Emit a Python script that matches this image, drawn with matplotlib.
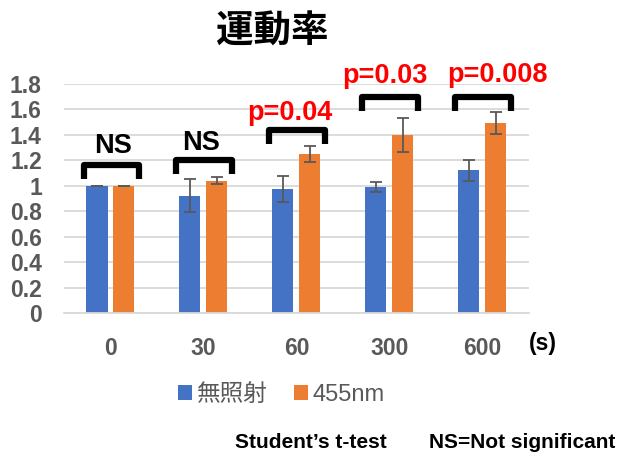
import numpy as np
import matplotlib
matplotlib.use("Agg")
import matplotlib.pyplot as plt

plt.rcParams['font.family'] = ['Liberation Sans', 'Noto Sans CJK JP', 'DejaVu Sans']

# Data
categories = ['0', '30', '60', '300', '600']
series_names = ['無照射', '455nm']
control_vals = [1.00, 0.92, 0.975, 0.99, 1.12]
control_err = [0.0, 0.13, 0.105, 0.04, 0.08]
light_vals = [1.00, 1.04, 1.25, 1.40, 1.495]
light_err = [0.0, 0.03, 0.06, 0.135, 0.085]
sig_labels = ['NS', 'NS', 'p=0.04', 'p=0.03', 'p=0.008']
bracket_tops = [1.165, 1.205, 1.44, 1.70, 1.70]
label_heights = [1.31, 1.34, 1.575, 1.86, 1.87]
label_offsets = [0.03, -0.03, -0.075, -0.05, 0.16]
yticks = [0, 0.2, 0.4, 0.6, 0.8, 1, 1.2, 1.4, 1.6, 1.8]
ytick_labels = ['0', '0.2', '0.4', '0.6', '0.8', '1', '1.2', '1.4', '1.6', '1.8']

BLUE = '#4472C4'
ORANGE = '#ED7D31'
GREY = '#595959'

fig = plt.figure(figsize=(6.23, 4.63), dpi=100)
ax = fig.add_axes([0.1027, 0.324, 0.7463, 0.4946])

x = np.arange(len(categories))
w = 0.226
off = 0.145
ax.bar(x - off, control_vals, w, color=BLUE, label=series_names[0], zorder=2)
ax.bar(x + off, light_vals, w, color=ORANGE, label=series_names[1], zorder=2)
ax.errorbar(x - off, control_vals, yerr=control_err, fmt='none', ecolor=GREY,
            elinewidth=1.3, capsize=4, capthick=1.3, zorder=3)
ax.errorbar(x + off, light_vals, yerr=light_err, fmt='none', ecolor=GREY,
            elinewidth=1.3, capsize=4, capthick=1.3, zorder=3)

ax.set_xlim(-0.5, len(categories) - 0.5)
ax.set_ylim(0, 1.8)
ax.set_yticks(yticks)
ax.set_yticklabels(ytick_labels)
ax.set_xticks(x)
ax.set_xticklabels(categories)
ax.yaxis.grid(True, color='#D9D9D9', lw=1.3, zorder=0)
ax.set_axisbelow(True)
for s in ['left', 'right', 'top']:
    ax.spines[s].set_visible(False)
ax.spines['bottom'].set_color('#D9D9D9')
ax.spines['bottom'].set_linewidth(1.3)
ax.tick_params(length=0, labelsize=16.5, labelcolor=GREY, pad=17)
ax.tick_params(axis='y', pad=16)
for lab in ax.get_xticklabels() + ax.get_yticklabels():
    lab.set_fontweight('bold')

# Significance brackets
leg = 0.11
for i in range(len(categories)):
    top = bracket_tops[i]
    ax.plot([i - 0.29, i - 0.29, i + 0.31, i + 0.31],
            [top - leg, top, top, top - leg], color='black', lw=4.5,
            solid_joinstyle='round', solid_capstyle='butt', clip_on=False, zorder=4)
    color = 'black' if sig_labels[i] == 'NS' else '#FF0000'
    ax.text(i + label_offsets[i], label_heights[i], sig_labels[i], ha='center', va='center',
            fontsize=19.5, fontweight='bold', color=color, clip_on=False)

ax.text(1.0, -0.135, '(s)', transform=ax.transAxes, ha='left', va='center',
        fontsize=16.5, fontweight='bold', color='black')

fig.text(0.437, 0.933, '運動率', ha='center', va='center', fontsize=27, fontweight='bold',
         family=['Noto Sans CJK JP', 'DejaVu Sans'])

fig.legend(loc='center', bbox_to_anchor=(0.452, 0.147), ncol=2, frameon=False,
           handlelength=0.6, handleheight=0.6, handletextpad=0.2, columnspacing=1.1,
           prop={'size': 17, 'family': ['Liberation Sans', 'Noto Sans CJK JP']},
           labelcolor=GREY)

fig.text(0.377, 0.045, 'Student\u2019s t-test', ha='left', va='center', fontsize=15,
         fontweight='bold')
fig.text(0.689, 0.045, 'NS=Not significant', ha='left', va='center', fontsize=15,
         fontweight='bold')

fig.savefig('out.png', dpi=100)
